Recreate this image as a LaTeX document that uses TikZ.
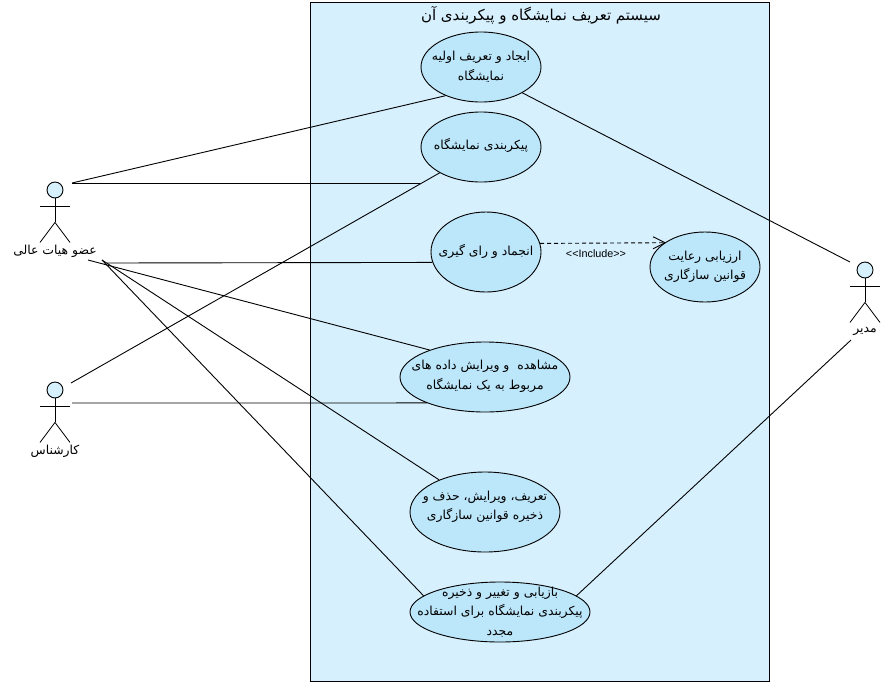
\documentclass[tikz,border=0pt]{standalone}
\usepackage{fontspec}
\setmainfont{Liberation Sans}
\newfontfamily\farsifont[Script=Arabic]{DejaVu Sans}
\TeXXeTstate=1
\usetikzlibrary{shapes.geometric,arrows.meta}
\newcommand{\fa}[1]{\beginR #1\endR}
\definecolor{boxfill}{HTML}{D6F0FE}
\definecolor{ucfill}{HTML}{BCE6FA}
\tikzset{
  x=1pt,y=-1pt,
  ucase/.style={ellipse,draw=black,fill=ucfill,line width=0.9pt,inner sep=0pt},
  uctext/.style={font=\farsifont\fontsize{12.4}{19.5}\selectfont,align=center,inner sep=0pt,text=black},
  head/.style={circle,draw=black,fill=boxfill,line width=0.9pt,minimum size=16pt,inner sep=0pt},
  conn/.style={draw=black,line width=0.9pt},
  body/.style={draw=black,line width=0.8pt},
}
\begin{document}
\begin{tikzpicture}
\useasboundingbox (0,0) rectangle (891,686);
\node[draw=black,fill=boxfill,line width=0.9pt,minimum width=459pt,minimum height=679pt,inner sep=0pt] (sys) at (539.5,341.5) {};
\node[font=\farsifont\fontsize{15}{18}\selectfont,inner sep=0pt] (title) at (541,15) {\fa{سیستم تعریف نمایشگاه و پیکربندی آن}};
% use cases
\node[ucase,minimum width=120pt,minimum height=70pt] (uc1) at (481,67) {};
\node[ucase,minimum width=120pt,minimum height=70pt] (uc2) at (481,147) {};
\node[ucase,minimum width=110pt,minimum height=80pt] (uc3) at (486,252) {};
\node[ucase,minimum width=110pt,minimum height=70pt] (uc4) at (705,267) {};
\node[ucase,minimum width=170pt,minimum height=70pt] (uc5) at (485,377) {};
\node[ucase,minimum width=150pt,minimum height=80pt] (uc6) at (485,512) {};
\node[ucase,minimum width=180pt,minimum height=60pt] (uc7) at (500,612) {};
\node[uctext] (t1) at (481,66.5) {\fa{ایجاد و تعریف اولیه}\\\fa{نمایشگاه}};
\node[uctext] (t2) at (481,145) {\fa{پیکربندی نمایشگاه}};
\node[uctext] (t3) at (486,251) {\fa{انجماد و رای گیری}};
\node[uctext] (t4) at (705,267) {\fa{ارزیابی رعایت}\\\fa{قوانین سازگاری}};
\node[uctext] (t5) at (485,376.5) {\fa{مشاهده\ \ و ویرایش داده های}\\\fa{مربوط به یک نمایشگاه}};
\node[uctext] (t6) at (485,507) {\fa{تعریف، ویرایش، حذف و}\\\fa{ذخیره قوانین سازگاری}};
\node[uctext] (t7) at (500,612) {\fa{بازیابی و تغییر و ذخیره}\\\fa{پیکربندی نمایشگاه برای استفاده}\\\fa{مجدد}};
% actors
\node[head] (a1) at (55,190) {};
\node[head] (a2) at (55,390) {};
\node[head] (a3) at (865,270) {};
\foreach \a in {a1,a2,a3}{
  \draw[body] (\a.south) -- ++(0,24) coordinate (\a hip);
  \draw[body] (\a.south) ++(-15,8) -- ++(30,0);
  \draw[body] (\a hip) -- ++(-15,20);
  \draw[body] (\a hip) -- ++(15,20);
}
\node[uctext] (l1) at (55,251) {\fa{عضو هیات عالی}};
\node[uctext] (l2) at (55,451) {\fa{کارشناس}};
\node[uctext] (l3) at (865,331) {\fa{مدیر}};
% connector free ends
\coordinate (p1) at (72,183);
\coordinate (p2) at (71,383);
\coordinate (p3) at (72,403);
\coordinate (p4) at (88,260);
\coordinate (p5) at (102,260);
\coordinate (p6) at (107,263);
\coordinate (p7) at (850,262);
\coordinate (p8) at (851,340);
\coordinate (p9) at (420,183);
% connectors
\draw[conn] (p1) -- (uc1.219.8);
\draw[conn] (p1) -- (p9);
\draw[conn] (p2) -- (uc2.212.1);
\draw[conn] (p3) -- (uc5.204.6);
\draw[conn] (p6) -- (uc3.191.75);
\draw[conn] (p4) -- (uc5.154.7);
\draw[conn] (p5) -- (uc6.145.8);
\draw[conn] (p5) -- (uc7.168.3);
\draw[conn] (uc1.-32.7) -- (p7);
\draw[conn] (uc7.12.3) -- (p8);
\draw[conn,dash pattern=on 4pt off 3pt,shorten >=-1.5pt,-{Straight Barb[length=12pt,width=12pt,line width=0.9pt]}] (uc3.9.5) -- (uc4.149);
\node[font=\fontsize{10.8}{12}\selectfont,inner sep=0pt] (inc) at (596,254) {<{}<Include>{}>};
\end{tikzpicture}
\end{document}
